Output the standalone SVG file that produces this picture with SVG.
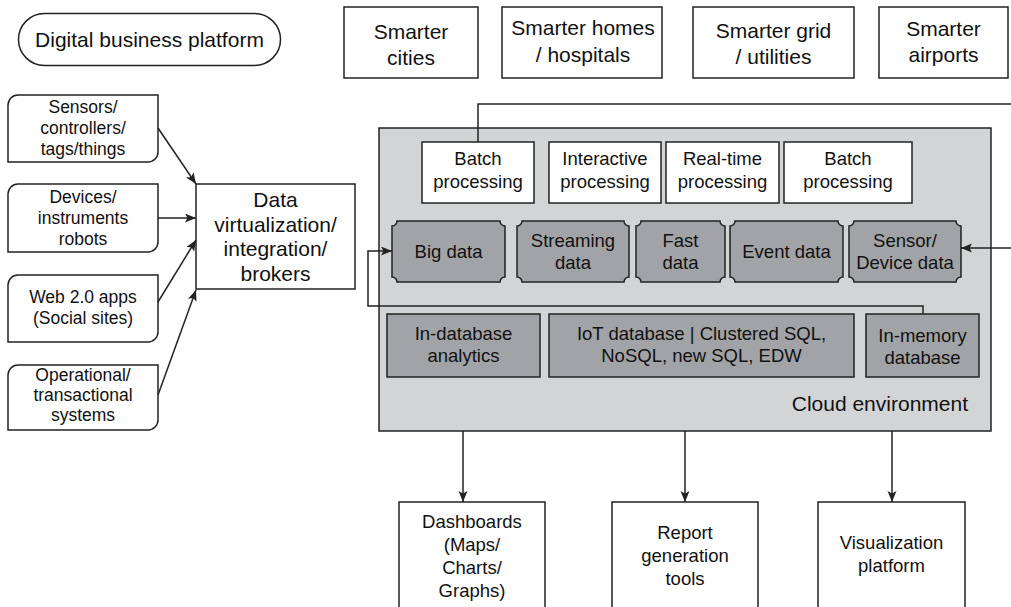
<svg xmlns="http://www.w3.org/2000/svg" width="1011" height="607" viewBox="0 0 1011 607">
<style>
text{font-family:"Liberation Sans",Arial,sans-serif;fill:#111;text-anchor:middle}
.t21{font-size:21px}
.t18{font-size:18.5px}
.t17{font-size:17.5px}
.box{fill:#fff;stroke:#222;stroke-width:1.5}
.cloud{fill:#d3d4d6;stroke:#222;stroke-width:1.5}
.dark{fill:#a2a3a6;stroke:#222;stroke-width:1.5}
.conn{fill:none;stroke:#222;stroke-width:1.5}
.arr{marker-end:url(#ah)}
</style>
<defs>
<marker id="ah" markerUnits="userSpaceOnUse" markerWidth="12" markerHeight="10" refX="11" refY="4.5" orient="auto">
<path d="M0,0 L11,4.5 L0,9 L2.5,4.5 Z" fill="#222"/>
</marker>
</defs>

<g id="digital-business-platform">
<rect class="box" x="18.5" y="13.5" width="262" height="52" rx="26"/>
<text class="t21" x="149.5" y="46.5">Digital business platform</text>
</g>

<g id="smarter-cities">
<rect class="box" x="344" y="7" width="134" height="71"/>
<text class="t21" x="411" y="39">Smarter</text>
<text class="t21" x="411" y="65">cities</text>
</g>
<g id="smarter-homes">
<rect class="box" x="502" y="7" width="160" height="71"/>
<text class="t21" x="583" y="35">Smarter homes</text>
<text class="t21" x="583" y="62">/ hospitals</text>
</g>
<g id="smarter-grid">
<rect class="box" x="693" y="7" width="161" height="71"/>
<text class="t21" x="773.5" y="38">Smarter grid</text>
<text class="t21" x="773.5" y="64">/ utilities</text>
</g>
<g id="smarter-airports">
<rect class="box" x="879" y="7" width="129" height="71"/>
<text class="t21" x="943.5" y="36">Smarter</text>
<text class="t21" x="943.5" y="62">airports</text>
</g>

<g id="sensors">
<path class="box" d="M8,105 A10,10 0 0 1 18,95 H158 V152 A10,10 0 0 1 148,162 H8 Z"/>
<text class="t17" x="83" y="113">Sensors/</text>
<text class="t17" x="83" y="134">controllers/</text>
<text class="t17" x="83" y="155">tags/things</text>
</g>
<g id="devices">
<path class="box" d="M8,194 A10,10 0 0 1 18,184 H158 V242 A10,10 0 0 1 148,252 H8 Z"/>
<text class="t17" x="83" y="203">Devices/</text>
<text class="t17" x="83" y="224">instruments</text>
<text class="t17" x="83" y="245">robots</text>
</g>
<g id="web-apps">
<path class="box" d="M8,285 A10,10 0 0 1 18,275 H158 V332 A10,10 0 0 1 148,342 H8 Z"/>
<text class="t17" x="83" y="303">Web 2.0 apps</text>
<text class="t17" x="83" y="324">(Social sites)</text>
</g>
<g id="operational">
<path class="box" d="M8,375 A10,10 0 0 1 18,365 H158 V420 A10,10 0 0 1 148,430 H8 Z"/>
<text class="t17" x="83" y="381">Operational/</text>
<text class="t17" x="83" y="401">transactional</text>
<text class="t17" x="83" y="421">systems</text>
</g>

<g id="data-virtualization">
<rect class="box" x="196" y="184" width="159" height="105"/>
<text class="t21" x="275.5" y="207">Data</text>
<text class="t21" x="275.5" y="231.5">virtualization/</text>
<text class="t21" x="275.5" y="256">integration/</text>
<text class="t21" x="275.5" y="280.5">brokers</text>
</g>

<g id="cloud-environment">
<rect class="cloud" x="379" y="128" width="612" height="303"/>
<text class="t21" x="968" y="411" style="text-anchor:end">Cloud environment</text>
</g>

<g id="batch-processing-1">
<rect class="box" x="422" y="142" width="112" height="61"/>
<text class="t18" x="478" y="165">Batch</text>
<text class="t18" x="478" y="188">processing</text>
</g>
<g id="interactive-processing">
<rect class="box" x="549" y="142" width="112" height="61"/>
<text class="t18" x="605" y="165">Interactive</text>
<text class="t18" x="605" y="188">processing</text>
</g>
<g id="realtime-processing">
<rect class="box" x="666" y="142" width="113" height="61"/>
<text class="t18" x="722.5" y="165">Real-time</text>
<text class="t18" x="722.5" y="188">processing</text>
</g>
<g id="batch-processing-2">
<rect class="box" x="784" y="142" width="128" height="61"/>
<text class="t18" x="848" y="165">Batch</text>
<text class="t18" x="848" y="188">processing</text>
</g>

<g id="big-data">
<path class="dark" d="M397,221 H500 A5,5 0 0 0 505,226 V277 A5,5 0 0 0 500,282 H397 A5,5 0 0 0 392,277 V226 A5,5 0 0 0 397,221 Z"/>
<text class="t18" x="448.5" y="258">Big data</text>
</g>
<g id="streaming-data">
<path class="dark" d="M522,221 H624 A5,5 0 0 0 629,226 V277 A5,5 0 0 0 624,282 H522 A5,5 0 0 0 517,277 V226 A5,5 0 0 0 522,221 Z"/>
<text class="t18" x="573" y="247">Streaming</text>
<text class="t18" x="573" y="269">data</text>
</g>
<g id="fast-data">
<path class="dark" d="M641,221 H720 A5,5 0 0 0 725,226 V277 A5,5 0 0 0 720,282 H641 A5,5 0 0 0 636,277 V226 A5,5 0 0 0 641,221 Z"/>
<text class="t18" x="680.5" y="247">Fast</text>
<text class="t18" x="680.5" y="269">data</text>
</g>
<g id="event-data">
<path class="dark" d="M735,221 H838 A5,5 0 0 0 843,226 V277 A5,5 0 0 0 838,282 H735 A5,5 0 0 0 730,277 V226 A5,5 0 0 0 735,221 Z"/>
<text class="t18" x="786.5" y="258">Event data</text>
</g>
<g id="sensor-device-data">
<path class="dark" d="M854,221 H956 A5,5 0 0 0 961,226 V277 A5,5 0 0 0 956,282 H854 A5,5 0 0 0 849,277 V226 A5,5 0 0 0 854,221 Z"/>
<text class="t18" x="905" y="247">Sensor/</text>
<text class="t18" x="905" y="269">Device data</text>
</g>

<g id="in-database-analytics">
<rect class="dark" x="387" y="314" width="153" height="63"/>
<text class="t18" x="463.5" y="340">In-database</text>
<text class="t18" x="463.5" y="362">analytics</text>
</g>
<g id="iot-database">
<rect class="dark" x="549" y="314" width="305" height="63"/>
<text class="t18" x="701.5" y="340">IoT database | Clustered SQL,</text>
<text class="t18" x="701.5" y="362">NoSQL, new SQL, EDW</text>
</g>
<g id="in-memory-database">
<rect class="dark" x="866" y="314" width="113" height="63"/>
<text class="t18" x="922.5" y="342">In-memory</text>
<text class="t18" x="922.5" y="364">database</text>
</g>

<g id="dashboards">
<rect class="box" x="399" y="502" width="146" height="115"/>
<text class="t18" x="472" y="528">Dashboards</text>
<text class="t18" x="472" y="551">(Maps/</text>
<text class="t18" x="472" y="574">Charts/</text>
<text class="t18" x="472" y="597">Graphs)</text>
</g>
<g id="report-generation">
<rect class="box" x="612" y="502" width="146" height="115"/>
<text class="t18" x="685" y="539">Report</text>
<text class="t18" x="685" y="562">generation</text>
<text class="t18" x="685" y="585">tools</text>
</g>
<g id="visualization-platform">
<rect class="box" x="818" y="502" width="147" height="115"/>
<text class="t18" x="891.5" y="549">Visualization</text>
<text class="t18" x="891.5" y="572">platform</text>
</g>

<g id="connectors">
<line class="conn arr" x1="158" y1="128" x2="196" y2="184"/>
<line class="conn arr" x1="158" y1="218" x2="196" y2="218"/>
<line class="conn arr" x1="158" y1="302" x2="196" y2="240"/>
<line class="conn arr" x1="158" y1="395" x2="196" y2="290"/>
<polyline class="conn" points="478,142 478,104 1011,104"/>
<line class="conn arr" x1="1011" y1="248" x2="961" y2="248"/>
<polyline class="conn arr" points="923,314 923,306 368,306 368,251 392,251"/>
<line class="conn arr" x1="463" y1="431" x2="463" y2="502"/>
<line class="conn arr" x1="685" y1="431" x2="685" y2="502"/>
<line class="conn arr" x1="892" y1="431" x2="892" y2="502"/>
</g>
</svg>
